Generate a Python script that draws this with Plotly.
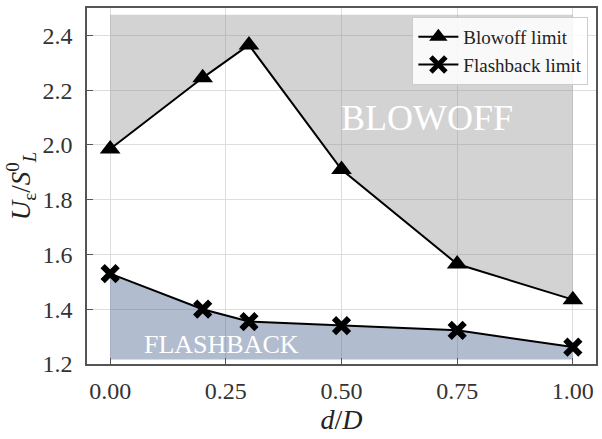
import plotly.graph_objects as go

d_over_D = [0.0, 0.2, 0.3, 0.5, 0.75, 1.0]
blowoff = [1.985, 2.245, 2.365, 1.91, 1.565, 1.435]
flashback = [1.53, 1.40, 1.355, 1.34, 1.323, 1.262]
FILL_TOP = 2.475
FILL_BOTTOM = 1.216

x_ticks = [0.0, 0.25, 0.5, 0.75, 1.0]
x_tick_text = ["0.00", "0.25", "0.50", "0.75", "1.00"]
y_ticks = [1.2, 1.4, 1.6, 1.8, 2.0, 2.2, 2.4]
y_tick_text = ["1.2", "1.4", "1.6", "1.8", "2.0", "2.2", "2.4"]

FONT = "Liberation Serif, serif"

fig = go.Figure()
# gray blowoff region
fig.add_trace(go.Scatter(x=d_over_D, y=[FILL_TOP] * len(d_over_D), mode="lines",
                         line=dict(width=0), showlegend=False, hoverinfo="skip"))
fig.add_trace(go.Scatter(x=d_over_D, y=blowoff, mode="lines", fill="tonexty",
                         fillcolor="rgba(128,128,128,0.35)", line=dict(width=0),
                         showlegend=False, hoverinfo="skip"))
# flashback region
fig.add_trace(go.Scatter(x=d_over_D, y=[FILL_BOTTOM] * len(d_over_D), mode="lines",
                         line=dict(width=0), showlegend=False, hoverinfo="skip"))
fig.add_trace(go.Scatter(x=d_over_D, y=flashback, mode="lines", fill="tonexty",
                         fillcolor="rgba(70,95,140,0.42)", line=dict(width=0),
                         showlegend=False, hoverinfo="skip"))

fig.add_trace(go.Scatter(x=d_over_D, y=blowoff, mode="lines+markers", name="Blowoff limit",
                         line=dict(color="black", width=2),
                         marker=dict(symbol="triangle-up", size=18, color="black")))
fig.add_trace(go.Scatter(x=d_over_D, y=flashback, mode="lines+markers", name="Flashback limit",
                         line=dict(color="black", width=2),
                         marker=dict(symbol="x-thin", size=15, color="black",
                                     line=dict(width=6, color="black"))))

fig.add_annotation(x=0.685, y=2.10, text="BLOWOFF", showarrow=False,
                   font=dict(family=FONT, size=36, color="white"))
fig.add_annotation(x=0.24, y=1.272, text="FLASHBACK", showarrow=False,
                   font=dict(family=FONT, size=26, color="white"))

axis_common = dict(showline=True, linecolor="#555555", linewidth=1.5, mirror=True,
                   ticks="inside", ticklen=6, tickcolor="#555555",
                   showgrid=True, gridcolor="#dddddd", gridwidth=1, zeroline=False,
                   tickfont=dict(family=FONT, size=24, color="#333333"))

fig.update_xaxes(range=[-0.05, 1.05], tickvals=x_ticks, ticktext=x_tick_text,
                 ticklabelstandoff=4,
                 title=dict(text="<i>d</i>/<i>D</i>", font=dict(family=FONT, size=28, color="#222222"),
                            standoff=6),
                 **axis_common)
fig.update_yaxes(range=[1.2, 2.5], tickvals=y_ticks, ticktext=y_tick_text,
                 ticklabelstandoff=8,
                 title=dict(text="<i>U</i><sub>ε</sub>/<i>S</i><sup>0</sup><sub><i>L</i></sub>",
                            font=dict(family=FONT, size=27, color="#222222"), standoff=4),
                 **axis_common)

fig.update_layout(
    width=602, height=439,
    margin=dict(l=87, r=4, t=8, b=75),
    paper_bgcolor="white", plot_bgcolor="white",
    legend=dict(x=0.985, y=0.975, xanchor="right", yanchor="top", traceorder="normal",
                bgcolor="rgba(255,255,255,0.85)", bordercolor="#cccccc", borderwidth=1,
                font=dict(family=FONT, size=19, color="#222222"),
                itemwidth=40, tracegroupgap=0),
    showlegend=True,
)

fig.write_html("out.html")
